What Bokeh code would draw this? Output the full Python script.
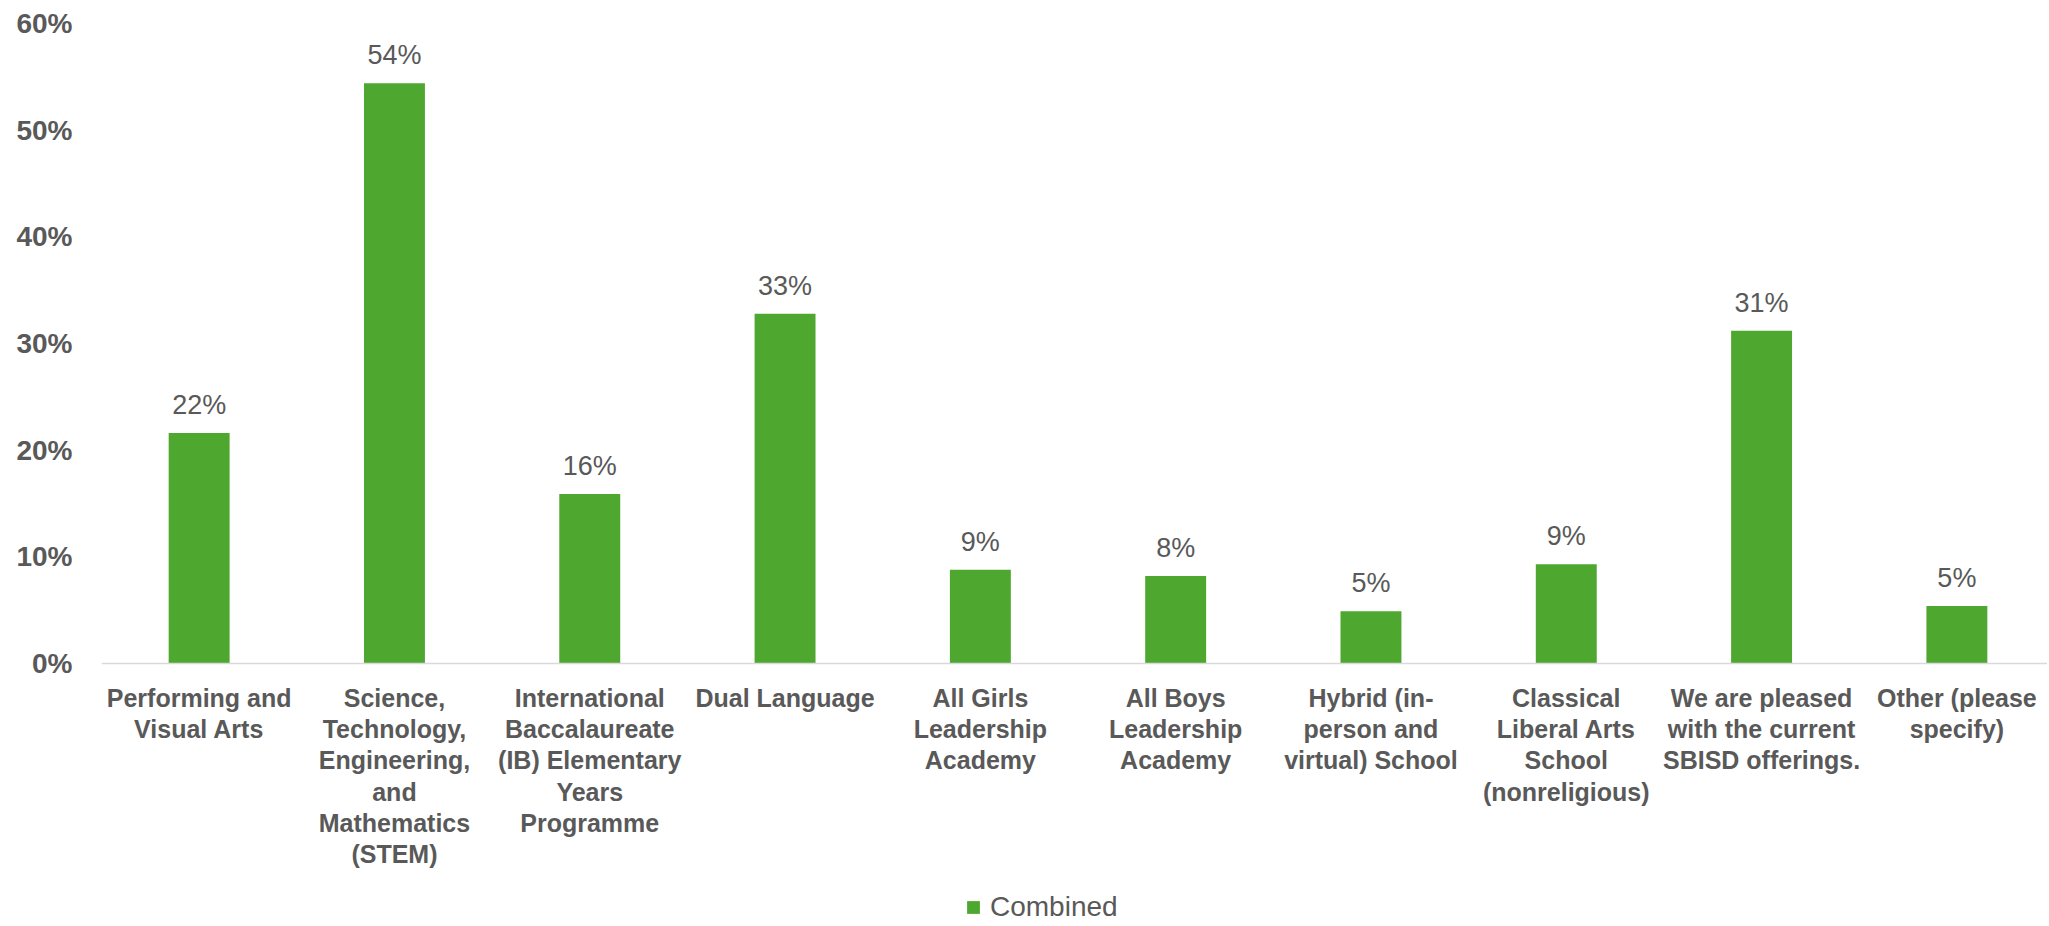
from bokeh.plotting import figure
from bokeh.models import (Range1d, FixedTicker, NumeralTickFormatter, ColumnDataSource,
                          LabelSet, Legend, LegendItem)
from bokeh.core.properties import value
from bokeh.embed import file_html
from bokeh.resources import INLINE

categories = [
    "Performing and\nVisual Arts",
    "Science,\nTechnology,\nEngineering,\nand\nMathematics\n(STEM)",
    "International\nBaccalaureate\n(IB) Elementary\nYears\nProgramme",
    "Dual Language",
    "All Girls\nLeadership\nAcademy",
    "All Boys\nLeadership\nAcademy",
    "Hybrid (in-\nperson and\nvirtual) School",
    "Classical\nLiberal Arts\nSchool\n(nonreligious)",
    "We are pleased\nwith the current\nSBISD offerings.",
    "Other (please\nspecify)",
]
combined = [0.216, 0.544, 0.159, 0.328, 0.088, 0.082, 0.049, 0.093, 0.312, 0.054]
y_ticks = [0.0, 0.1, 0.2, 0.3, 0.4, 0.5, 0.6]
series_name = "Combined"

GREEN = "#4EA72E"
GREY = "#595959"
FONT = "Liberation Sans"

# layout: 0..60% spans 640 px; the frame continues below 0 to hold labels + legend
PLOT_H = 640
FRAME_H = 902
y_max = 0.6
y_min = -(FRAME_H - PLOT_H) * y_max / PLOT_H

xs = list(range(len(categories)))
src = ColumnDataSource(dict(
    x=xs,
    y=combined,
    lab=[f"{round(v * 100):.0f}%" for v in combined],
))

p = figure(frame_width=1946, frame_height=FRAME_H, output_backend="svg", toolbar_location=None,
           x_range=Range1d(-0.5, 9.464), y_range=Range1d(y_min, y_max),
           min_border_left=101, min_border_right=0, min_border_top=23,
           min_border_bottom=0)
p.outline_line_color = None
p.background_fill_color = "white"
p.border_fill_color = "white"

r = p.vbar(x="x", top="y", bottom=0, width=0.312, source=src, fill_color=GREEN, line_color=None)

labels = LabelSet(x="x", y="y", text="lab", source=src, y_offset=28,
                  text_align="center", text_baseline="middle",
                  text_font=value(FONT), text_font_size=value("27px"), text_color=GREY)
p.add_layout(labels)

p.xgrid.visible = False
p.ygrid.visible = False

xa = p.xaxis[0]
xa.fixed_location = 0
xa.ticker = FixedTicker(ticks=xs)
xa.major_label_overrides = {i: c for i, c in enumerate(categories)}
xa.axis_line_color = "#D9D9D9"
xa.axis_line_width = 1.5
xa.major_tick_line_color = None
xa.minor_tick_line_color = None
xa.major_tick_out = 0
xa.major_tick_in = 0
xa.major_label_standoff = 20
xa.major_label_text_font = FONT
xa.major_label_text_font_style = "bold"
xa.major_label_text_font_size = "25px"
xa.major_label_text_color = GREY
xa.major_label_text_line_height = 1.12

ya = p.yaxis[0]
ya.ticker = FixedTicker(ticks=y_ticks)
ya.formatter = NumeralTickFormatter(format="0%")
ya.axis_line_color = None
ya.major_tick_line_color = None
ya.minor_tick_line_color = None
ya.major_tick_out = 0
ya.major_tick_in = 0
ya.major_label_standoff = 29
ya.major_label_text_font = FONT
ya.major_label_text_font_style = "bold"
ya.major_label_text_font_size = "28px"
ya.major_label_text_color = GREY

legend = Legend(items=[LegendItem(label=series_name, renderers=[r])],
                orientation="horizontal", location=(864, 2),
                label_text_font=FONT, label_text_font_size="28px",
                label_text_color=GREY, glyph_width=16, glyph_height=16,
                label_standoff=9, padding=0, margin=0, spacing=0,
                border_line_color=None, background_fill_alpha=0)
p.add_layout(legend)

open("out.html", "w").write(file_html(p, INLINE))
